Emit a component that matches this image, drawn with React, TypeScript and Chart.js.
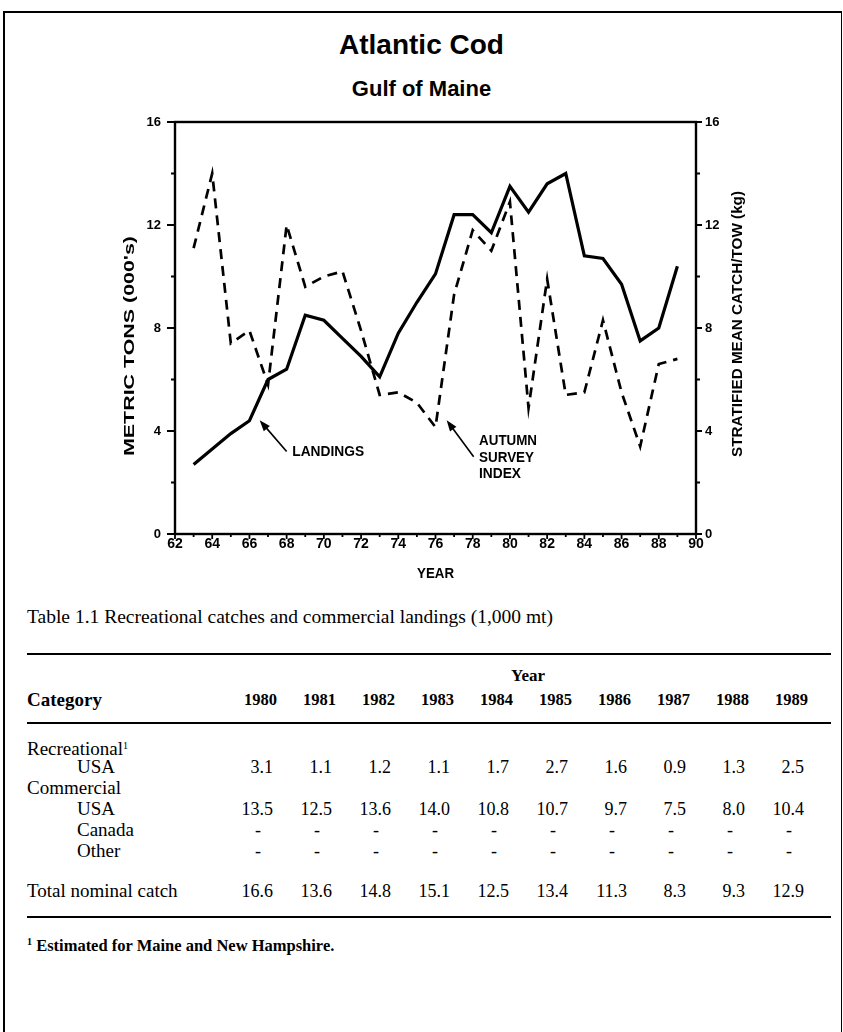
import React, { useEffect, useRef } from "react";
import { Chart, registerables } from "chart.js";

Chart.register(...registerables);

// ---------- chart data ----------
const years = [63, 64, 65, 66, 67, 68, 69, 70, 71, 72, 73, 74, 75, 76, 77, 78, 79, 80, 81, 82, 83, 84, 85, 86, 87, 88, 89];
const landings = [2.7, 3.3, 3.9, 4.4, 6.0, 6.4, 8.5, 8.3, 7.6, 6.9, 6.1, 7.8, 9.0, 10.1, 12.4, 12.4, 11.7, 13.5, 12.5, 13.6, 14.0, 10.8, 10.7, 9.7, 7.5, 8.0, 10.4];
const surveyIndex = [11.1, 14.0, 7.4, 7.9, 5.8, 12.0, 9.6, 10.0, 10.2, 7.9, 5.4, 5.5, 5.1, 4.15, 9.3, 11.8, 11.0, 12.9, 4.9, 9.9, 5.4, 5.5, 8.3, 5.5, 3.4, 6.6, 6.8];

const yTickMarks = [0, 2, 4, 6, 8, 10, 12, 14, 16];
const xTickMarks = [62, 63, 64, 65, 66, 67, 68, 69, 70, 71, 72, 73, 74, 75, 76, 77, 78, 79, 80, 81, 82, 83, 84, 85, 86, 87, 88, 89, 90];

const titleMain = "Atlantic Cod";
const titleSub = "Gulf of Maine";
const leftAxisTitle = "METRIC TONS (000's)";
const rightAxisTitle = "STRATIFIED MEAN CATCH/TOW (kg)";
const xAxisTitle = "YEAR";

// annotation labels anchored in data space: [x, y]
const landingsLabel = ["LANDINGS"];
const landingsLabelAt = [68.3, 3.18];
const landingsArrow = [68.0, 3.2, 66.55, 4.42];
const surveyLabel = ["AUTUMN", "SURVEY", "INDEX"];
const surveyLabelAt = [78.34, 3.6];
const surveyArrow = [78.05, 3.0, 76.6, 4.42];

// ---------- table data ----------
const tableCaption = "Table 1.1  Recreational catches and commercial landings (1,000 mt)";
const tableYears = ["1980", "1981", "1982", "1983", "1984", "1985", "1986", "1987", "1988", "1989"];
const recreationalUSA = ["3.1", "1.1", "1.2", "1.1", "1.7", "2.7", "1.6", "0.9", "1.3", "2.5"];
const commercialUSA = ["13.5", "12.5", "13.6", "14.0", "10.8", "10.7", "9.7", "7.5", "8.0", "10.4"];
const commercialCanada = ["-", "-", "-", "-", "-", "-", "-", "-", "-", "-"];
const commercialOther = ["-", "-", "-", "-", "-", "-", "-", "-", "-", "-"];
const totalNominal = ["16.6", "13.6", "14.8", "15.1", "12.5", "13.4", "11.3", "8.3", "9.3", "12.9"];
const footnote = "Estimated for Maine and New Hampshire.";

const SANS = '"Liberation Sans", Arial, sans-serif';
const SERIF = '"Liberation Serif", "Times New Roman", serif';

function drawArrow(ctx: CanvasRenderingContext2D, x1: number, y1: number, x2: number, y2: number) {
  const ang = Math.atan2(y2 - y1, x2 - x1);
  const head = 11;
  const hw = 4;
  ctx.beginPath();
  ctx.moveTo(x1, y1);
  ctx.lineTo(x2 - Math.cos(ang) * head * 0.8, y2 - Math.sin(ang) * head * 0.8);
  ctx.stroke();
  ctx.beginPath();
  ctx.moveTo(x2, y2);
  ctx.lineTo(x2 - Math.cos(ang) * head + Math.sin(ang) * hw, y2 - Math.sin(ang) * head - Math.cos(ang) * hw);
  ctx.lineTo(x2 - Math.cos(ang) * head - Math.sin(ang) * hw, y2 - Math.sin(ang) * head + Math.cos(ang) * hw);
  ctx.closePath();
  ctx.fill();
}

// draw text stretched along its reading direction to a given length
function stretchText(ctx: CanvasRenderingContext2D, text: string, x: number, y: number, rot: number, len: number, align: "left" | "center") {
  ctx.save();
  ctx.translate(x, y);
  ctx.rotate(rot);
  const w = ctx.measureText(text).width;
  const k = len / w;
  ctx.scale(k, 1);
  ctx.textAlign = align;
  ctx.textBaseline = "middle";
  ctx.fillText(text, 0, 0);
  ctx.restore();
}

const decorPlugin = {
  id: "decor",
  afterDraw(chart: any) {
    const { ctx, chartArea, scales } = chart;
    const { left, right, top, bottom } = chartArea;
    const x = scales.x, y = scales.y, y1 = scales.y1;
    ctx.save();
    ctx.strokeStyle = "#000";
    ctx.fillStyle = "#000";
    // frame
    ctx.lineWidth = 2.4;
    ctx.strokeRect(left, top, right - left, bottom - top);
    // tick marks
    ctx.lineWidth = 1.8;
    ctx.beginPath();
    for (const v of yTickMarks) {
      const major = v % 4 === 0;
      const py = y.getPixelForValue(v);
      ctx.moveTo(left, py);
      ctx.lineTo(left - (major ? 8 : 4), py);
      const py1 = y1.getPixelForValue(v);
      ctx.moveTo(right, py1);
      ctx.lineTo(right + (major ? 6 : 4), py1);
    }
    for (const v of xTickMarks) {
      const major = v % 2 === 0;
      const px = x.getPixelForValue(v);
      ctx.moveTo(px, bottom);
      ctx.lineTo(px, bottom + (major ? 5 : 3));
    }
    ctx.stroke();

    // axis titles
    ctx.font = `bold 15px ${SANS}`;
    stretchText(ctx, leftAxisTitle, left - 45, (top + bottom) / 2 + 18, -Math.PI / 2, 220, "center");
    stretchText(ctx, rightAxisTitle, right + 42, (top + bottom) / 2 - 4, -Math.PI / 2, 266, "center");
    ctx.font = `bold 14px ${SANS}`;
    stretchText(ctx, xAxisTitle, (left + right) / 2, bottom + 40, 0, 37, "center");

    // annotations
    ctx.font = `bold 14px ${SANS}`;
    stretchText(ctx, landingsLabel[0], x.getPixelForValue(landingsLabelAt[0]), y.getPixelForValue(landingsLabelAt[1]), 0, 72, "left");
    const sx = x.getPixelForValue(surveyLabelAt[0]);
    const sy = y.getPixelForValue(surveyLabelAt[1]);
    const surveyLens = [58, 55, 42];
    surveyLabel.forEach((t, i) => stretchText(ctx, t, sx, sy + i * 16.5, 0, surveyLens[i], "left"));
    ctx.lineWidth = 1.6;
    drawArrow(ctx, x.getPixelForValue(landingsArrow[0]), y.getPixelForValue(landingsArrow[1]), x.getPixelForValue(landingsArrow[2]), y.getPixelForValue(landingsArrow[3]));
    drawArrow(ctx, x.getPixelForValue(surveyArrow[0]), y.getPixelForValue(surveyArrow[1]), x.getPixelForValue(surveyArrow[2]), y.getPixelForValue(surveyArrow[3]));
    ctx.restore();
  },
};

function CodChart() {
  const ref = useRef<HTMLCanvasElement | null>(null);
  useEffect(() => {
    if (!ref.current) return;
    const yTickFont = { family: SANS, size: 13, weight: "bold" as const };
    const xTickFont = { family: SANS, size: 14, weight: "bold" as const };
    const chart = new Chart(ref.current, {
      type: "line",
      data: {
        datasets: [
          {
            label: "Landings",
            data: years.map((yr, i) => ({ x: yr, y: landings[i] })),
            borderColor: "#000",
            borderWidth: 3.2,
            pointRadius: 0,
            tension: 0,
            yAxisID: "y",
            borderJoinStyle: "miter",
          },
          {
            label: "Autumn survey index",
            data: years.map((yr, i) => ({ x: yr, y: surveyIndex[i] })),
            borderColor: "#000",
            borderWidth: 2.7,
            borderDash: [10, 7],
            pointRadius: 0,
            tension: 0,
            yAxisID: "y1",
          },
        ],
      },
      options: {
        animation: false,
        responsive: false,
        maintainAspectRatio: false,
        layout: { padding: { top: 22, left: 0, right: 0, bottom: 0 } },
        plugins: { legend: { display: false }, tooltip: { enabled: false } },
        scales: {
          x: {
            type: "linear",
            min: 62,
            max: 90,
            grid: { display: false, drawTicks: false },
            border: { display: false },
            ticks: { stepSize: 2, color: "#000", font: xTickFont, padding: 2, maxRotation: 0, callback: (v: any) => String(v) },
            afterFit: (s: any) => { s.height = 56; },
          },
          y: {
            position: "left",
            min: 0,
            max: 16,
            grid: { display: false, drawTicks: false },
            border: { display: false },
            ticks: { stepSize: 4, color: "#000", font: yTickFont, padding: 14 },
            afterFit: (s: any) => { s.width = 75; },
          },
          y1: {
            position: "right",
            min: 0,
            max: 16,
            grid: { display: false, drawTicks: false },
            border: { display: false },
            ticks: { stepSize: 4, color: "#000", font: yTickFont, padding: 9 },
            afterFit: (s: any) => { s.width = 104; },
          },
        },
      },
      plugins: [decorPlugin],
    });
    return () => chart.destroy();
  }, []);
  return (
    <canvas
      ref={ref}
      width={700}
      height={490}
      style={{ position: "absolute", left: 100, top: 100, width: 700, height: 490 }}
    />
  );
}

const colRight = [277, 336, 395, 454, 513, 572, 631, 690, 749, 808];

function Txt(props: { x: number; y: number; children: any; bold?: boolean; align?: "left" | "right" | "center"; size?: number }) {
  const { x, y, children, bold, align = "left", size = 18 } = props;
  const style: any = {
    position: "absolute",
    top: y - 11,
    height: 22,
    lineHeight: "22px",
    whiteSpace: "nowrap",
    fontFamily: SERIF,
    fontSize: size,
    fontWeight: bold ? "bold" : "normal",
  };
  if (align === "left") style.left = x;
  else if (align === "right") style.right = 843 - x;
  else { style.left = x - 100; style.width = 200; style.textAlign = "center"; }
  return <div style={style}>{children}</div>;
}

function Row(props: { y: number; values: string[]; centered?: boolean }) {
  const { y, values, centered } = props;
  return (
    <>
      {values.map((v, i) =>
        centered ? (
          <Txt key={i} x={colRight[i] - 19} y={y} align="center">{v}</Txt>
        ) : (
          <Txt key={i} x={colRight[i] - 4} y={y} align="right">{v}</Txt>
        )
      )}
    </>
  );
}

export default function App() {
  return (
    <div style={{ position: "absolute", left: 0, top: 0, width: 843, height: 1032, background: "#fff", overflow: "hidden", fontFamily: SERIF }}>
      <div style={{ position: "absolute", left: 3, top: 11, width: 836, height: 1100, borderLeft: "2px solid #000", borderTop: "2px solid #000", borderRight: "1.5px solid #000" }} />
      <div style={{ position: "absolute", left: 0, width: 843, top: 28, textAlign: "center", fontFamily: SANS, fontWeight: "bold", fontSize: 28, lineHeight: "34px" }}>{titleMain}</div>
      <div style={{ position: "absolute", left: 0, width: 843, top: 76, textAlign: "center", fontFamily: SANS, fontWeight: "bold", fontSize: 22, lineHeight: "26px" }}>{titleSub}</div>
      <CodChart />

      <Txt x={27} y={617} size={19.5}>{tableCaption}</Txt>
      <div style={{ position: "absolute", left: 27, width: 804, top: 653, height: 2, background: "#000" }} />
      <Txt x={528} y={676} bold align="center" size={17}>Year</Txt>
      <Txt x={27} y={700} bold size={19}>Category</Txt>
      {tableYears.map((t, i) => (
        <Txt key={t} x={colRight[i]} y={700} bold align="right" size={16.5}>{t}</Txt>
      ))}
      <div style={{ position: "absolute", left: 27, width: 804, top: 722, height: 2, background: "#000" }} />
      <Txt x={27} y={746} size={19}>Recreational<sup style={{ fontSize: 10, verticalAlign: "6px" }}>1</sup></Txt>
      <Txt x={77} y={767} size={19}>USA</Txt>
      <Row y={767} values={recreationalUSA} />
      <Txt x={27} y={788} size={19}>Commercial</Txt>
      <Txt x={77} y={809} size={19}>USA</Txt>
      <Row y={809} values={commercialUSA} />
      <Txt x={77} y={830} size={19}>Canada</Txt>
      <Row y={830} values={commercialCanada} centered />
      <Txt x={77} y={851} size={19}>Other</Txt>
      <Row y={851} values={commercialOther} centered />
      <Txt x={27} y={891} size={19}>Total nominal catch</Txt>
      <Row y={891} values={totalNominal} />
      <div style={{ position: "absolute", left: 27, width: 804, top: 916, height: 2, background: "#000" }} />
      <Txt x={27} y={942} bold size={16.5}><sup style={{ fontSize: 10, verticalAlign: "6px" }}>1</sup> {footnote}</Txt>
    </div>
  );
}
